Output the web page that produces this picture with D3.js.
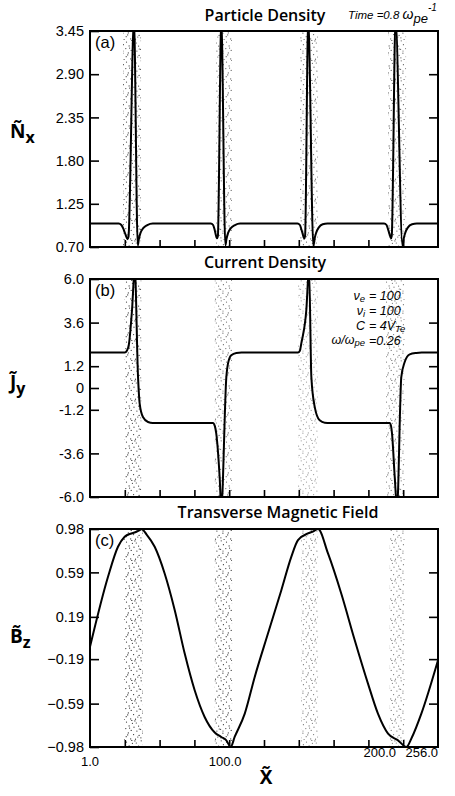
<!DOCTYPE html>
<html><head><meta charset="utf-8">
<script src="https://cdn.jsdelivr.net/npm/d3@7"></script>
<style>body{margin:0;background:#fff} svg{display:block;background:#fff}</style>
</head><body><svg id="c" width="455" height="796"></svg>
<script>
// ---------------- data ----------------
const xDomain = [1, 256];
const xMinorTicks = [1, 26.5, 52, 77.5, 103, 128.5, 154, 179.5, 205, 230.5, 256];
const xTickValues = [1, 100, 200, 256];
const xTickLabels = ["1.0", "100.0", "200.0", "256.0"];

const densityTicks = [0.70, 1.25, 1.80, 2.35, 2.90, 3.45];
const currentTicks = [6.0, 3.6, 1.2, 0, -1.2, -3.6, -6.0];
const currentTickLabels = ["6.0", "3.6", "1.2", "0", "-1.2", "-3.6", "-6.0"];
const fieldTicks = [0.98, 0.59, 0.19, -0.19, -0.59, -0.98];

// particle density N_x
const densityPoints = [
  [1,1.0],[22,1.0],[24,0.98],[25.5,0.93],[27,0.86],[28.5,0.80],[29.2,0.83],[33.2,3.6],[36.0,0.72],
  [36.8,0.80],[38.0,0.88],[40,0.94],[43,0.98],[47,1.0],
  [89.5,1.0],[91.2,0.98],[92.2,0.93],[93.0,0.87],[94.0,0.81],[94.7,0.84],[97.2,3.6],[100.2,0.72],
  [101,0.80],[102.2,0.88],[104.2,0.94],[107.2,0.98],[111,1.0],
  [153,1.0],[154.8,0.98],[155.8,0.93],[156.8,0.87],[158.0,0.81],[158.6,0.84],[160.9,3.6],[164.7,0.71],
  [165.5,0.80],[166.7,0.88],[168.7,0.95],[171.5,0.99],[175,1.0],
  [216.5,1.0],[218.3,0.98],[219.3,0.93],[220.4,0.87],[221.5,0.81],[222.1,0.84],[224.9,3.6],[230.0,0.71],
  [230.8,0.80],[232.0,0.88],[234.0,0.95],[237.0,0.99],[240.5,1.0],[256,1.0]
];

// current density J_y
const currentPoints = [
  [1,1.95],[26.5,1.95],[28,2.05],[29.5,2.4],[31.8,4.3],[33.8,6.6],[36.2,0.6],[37.4,-0.86],[39.8,-1.6],
  [43.5,-1.87],[47,-1.92],[91.1,-1.92],[92.5,-2.1],[93.5,-2.5],[96.0,-4.9],[97.2,-6.6],[100.9,0.6],
  [102.1,1.34],[104.5,1.8],[108.2,1.93],[112,1.95],[153.4,1.95],[154.8,2.05],[155.8,2.44],[159.5,4.28],
  [161.5,6.6],[163.2,0.6],[165.7,-1.05],[169.3,-1.78],[173,-1.91],[177,-1.92],[220.6,-1.92],[221.6,-2.1],
  [222.3,-2.5],[224.3,-4.9],[226.0,-6.6],[229.1,0.6],[231.6,1.43],[235.3,1.85],[240.1,1.93],[244,1.95],[256,1.95]
];

// transverse magnetic field B_z
const fieldPoints = [
  [1,-0.08],[14.2,0.55],[21.5,0.82],[26.4,0.91],[31.3,0.94],[35,0.955],[37.4,0.97],[38.6,0.98],[42.5,0.93],
  [48.4,0.82],[55.7,0.58],[63.1,0.25],[70.4,-0.14],[77.7,-0.47],[85.0,-0.71],[92.4,-0.85],[97.2,-0.89],
  [100.9,-0.92],[104.1,-0.98],[107,-0.89],[114.4,-0.68],[121.7,-0.35],[131.4,0.04],[141.2,0.43],[148.5,0.73],
  [153.4,0.88],[160.7,0.94],[164,0.955],[168.1,0.98],[175.4,0.76],[185.1,0.40],[195.0,-0.02],[204.7,-0.41],
  [212.0,-0.68],[219.4,-0.86],[226.7,-0.92],[232.8,-0.98],[237,-0.89],[243.8,-0.68],[256,-0.20]
];

// particle (stipple) bands: [x start, x end, relative density]
const densityBands = [[25.2,38.4,0.75],[93.3,105,0.65],[154.9,168.1,0.65],[219.4,232.6,0.65]];
const currentBands = [[26.4,38.6,0.8],[92.4,105.1,0.6],[153.4,168.1,0.4],[217.9,231.6,0.55]];
const fieldBands   = [[25.9,39.8,0.85],[92.4,105.1,0.8],[155.6,168.1,0.55],[220.6,231.6,0.55]];

// ---------------- drawing ----------------
const svg = d3.select("#c");
svg.append("rect").attr("width",455).attr("height",796).attr("fill","#fff");
const x = d3.scaleLinear().domain(xDomain).range([90, 438]);

// stipple pattern (texture only)
const defs = svg.append("defs");
const pat = defs.append("pattern").attr("id","stip").attr("patternUnits","userSpaceOnUse")
  .attr("width",20).attr("height",20);
const dots = [[1.2,0.8],[6.5,2.1],[11.8,0.4],[16.3,3.0],[3.4,4.7],[9.1,5.9],[14.0,7.2],[18.6,6.1],[0.6,9.3],
  [5.8,8.6],[11.2,10.4],[16.9,11.1],[2.9,13.2],[8.3,12.9],[13.6,14.6],[19.1,15.4],[0.9,17.8],[6.2,16.7],
  [10.7,18.9],[15.5,19.2],[4.1,19.6],[12.4,3.3],[17.8,17.0],[7.7,14.9],[14.9,0.9],[3.0,11.0],[9.6,8.1],[19.3,9.0]];
pat.selectAll("circle").data(dots).join("circle").attr("cx",d=>d[0]).attr("cy",d=>d[1]).attr("r",0.6).attr("fill","#000");

const font = "'Liberation Sans', Arial, sans-serif";
const titleFont = "'Open Sans', sans-serif";

const panels = [
  {id:"a", top:31, bottom:247, domain:[0.70,3.45], ticks:densityTicks, labels:densityTicks.map(d3.format(".2f")),
   data:densityPoints, bands:densityBands, title:"Particle Density", titleX:265, titleY:21, tag:"(a)",
   ylab:"N\u0303", ysub:"x", ylabY:138},
  {id:"b", top:279, bottom:497, domain:[-6,6], ticks:currentTicks, labels:currentTickLabels,
   data:currentPoints, bands:currentBands, title:"Current Density", titleX:265, titleY:268, tag:"(b)",
   ylab:"J\u0303", ysub:"y", ylabY:389},
  {id:"c", top:529, bottom:747, domain:[-0.98,0.98], ticks:fieldTicks, labels:fieldTicks.map(d3.format(".2f")),
   data:fieldPoints, bands:fieldBands, title:"Transverse Magnetic Field", titleX:278, titleY:518, tag:"(c)",
   ylab:"B\u0303", ysub:"z", ylabY:643}
];

panels.forEach(p => {
  const y = d3.scaleLinear().domain(p.domain).range([p.bottom, p.top]);
  const g = svg.append("g");
  const clip = defs.append("clipPath").attr("id","clip"+p.id);
  clip.append("rect").attr("x",90).attr("y",p.top).attr("width",348).attr("height",p.bottom-p.top);

  // stipple bands
  g.append("g").attr("clip-path",`url(#clip${p.id})`).selectAll("rect").data(p.bands).join("rect")
    .attr("x",d=>x(d[0])).attr("width",d=>x(d[1])-x(d[0]))
    .attr("y",p.top).attr("height",p.bottom-p.top)
    .attr("fill","url(#stip)").attr("opacity",d=>d[2]);

  // curve
  g.append("path").datum(p.data).attr("clip-path",`url(#clip${p.id})`)
    .attr("d", d3.line().x(d=>x(d[0])).y(d=>y(d[1])).curve(d3.curveMonotoneX))
    .attr("fill","none").attr("stroke","#000").attr("stroke-width",2).attr("stroke-linejoin","round");

  // frame
  g.append("rect").attr("x",90).attr("y",p.top).attr("width",348).attr("height",p.bottom-p.top)
    .attr("fill","none").attr("stroke","#000").attr("stroke-width",2);

  // left axis
  const left = g.append("g").attr("transform","translate(90,0)")
    .call(d3.axisLeft(y).tickValues(p.ticks).tickFormat((d,i)=>p.labels[i]).tickSizeInner(-9).tickSizeOuter(0).tickPadding(6));
  left.select(".domain").remove();
  left.selectAll("line").attr("stroke","#000").attr("stroke-width",1.6);
  left.selectAll("text").attr("font-family",font).attr("font-size",14.5).attr("fill","#000");

  // right axis (inward ticks)
  const right = g.append("g").attr("transform","translate(438,0)")
    .call(d3.axisRight(y).tickValues(p.ticks.slice(1,-1)).tickFormat("").tickSizeInner(-9).tickSizeOuter(0));
  right.select(".domain").remove();
  right.selectAll("line").attr("stroke","#000").attr("stroke-width",1.6);

  // bottom minor ticks (inward)
  const bottom = g.append("g").attr("transform",`translate(0,${p.bottom})`)
    .call(d3.axisBottom(x).tickValues(xMinorTicks.slice(1,-1)).tickFormat("").tickSizeInner(-7).tickSizeOuter(0));
  bottom.select(".domain").remove();
  bottom.selectAll("line").attr("stroke","#000").attr("stroke-width",1.6);

  // title
  svg.append("text").attr("x",p.titleX).attr("y",p.titleY).attr("text-anchor","middle")
    .attr("font-family",titleFont).attr("font-weight",600).attr("font-size",16).text(p.title);

  // panel tag
  svg.append("text").attr("x",95).attr("y",p.top+17).attr("font-family",font).attr("font-size",16.5)
    .attr("font-weight",500).text(p.tag);

  // y label
  const yl = svg.append("text").attr("x",10).attr("y",p.ylabY).attr("font-family",titleFont)
    .attr("font-weight",700).attr("font-size",19);
  yl.append("tspan").text(p.ylab);
  yl.append("tspan").attr("dy",5).attr("font-size",16).text(p.ysub);
});

// x tick labels (bottom panel)
const xl = svg.append("g");
xTickValues.forEach((v,i) => {
  const anchor = i===0 ? "middle" : i===1 ? "middle" : i===2 ? "start" : "end";
  const yy = i<2 ? 766 : 757;
  xl.append("text").attr("x",x(v)+(i===2?2:0)).attr("y",yy).attr("text-anchor",anchor)
    .attr("font-family",font).attr("font-size",13).text(xTickLabels[i]);
});

// x axis label
svg.append("text").attr("x",266).attr("y",784).attr("text-anchor","middle")
  .attr("font-family",titleFont).attr("font-weight",700).attr("font-size",19).text("X\u0303");

// time annotation
const tt = svg.append("text").attr("x",348).attr("y",19).attr("font-family",font)
  .attr("font-style","italic").attr("font-size",11.5);
tt.append("tspan").text("Time =0.8 ");
tt.append("tspan").attr("font-size",14).text("ω");
tt.append("tspan").attr("dy",4).attr("font-size",13).text("pe");
tt.append("tspan").attr("dy",-12).attr("font-size",10).text("-1");

// parameters annotation in panel b
const ann = svg.append("g").attr("font-family",font).attr("font-style","italic").attr("font-size",12.5);
function part(xv, anchor, yv, main, sub) {
  const t = ann.append("text").attr("x",xv).attr("y",yv).attr("text-anchor",anchor);
  t.append("tspan").text(main);
  if (sub) t.append("tspan").attr("dy",2).attr("font-size",9.5).text(sub);
}
part(365,"end",300,"ν","e"); part(369,"start",300,"= 100");
part(365,"end",315,"ν","i"); part(369,"start",315,"= 100");
part(365,"end",330,"C",null); part(369,"start",330,"= 4V","Te");
part(365,"end",344,"ω/ω","pe"); part(369,"start",345,"=0.26");
</script></body></html>
